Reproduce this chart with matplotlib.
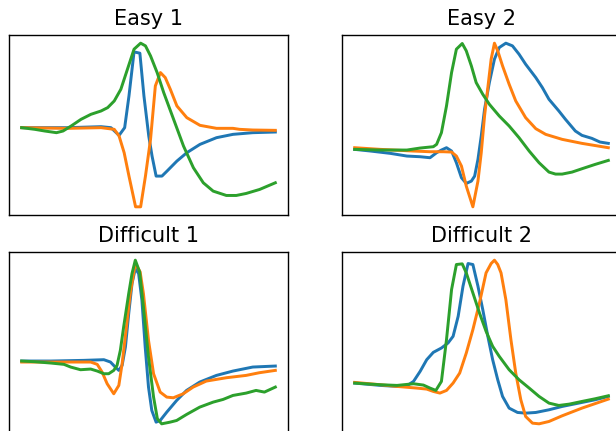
#!/usr/bin/env python3

import matplotlib
matplotlib.use("Agg")
import matplotlib.pyplot as plt

# Easy 1
easy1_blue_t = [0, 18.2, 31.3, 35.2, 38.4, 40.6, 42.3, 44.3, 46.6, 48.2, 50.1, 51.4,
                53.0, 55.3, 57.3, 61.2, 65.1, 70.3, 76.8, 83.3, 91.1, 100]
easy1_blue_v = [0, 0, 0.03, 0, -0.23, 0, 0.95, 2.27, 2.23, 0.95, -0.25, -0.85,
                -1.45, -1.45, -1.30, -1.00, -0.75, -0.50, -0.30, -0.20, -0.15, -0.13]
easy1_orange_t = [0, 18.2, 31.3, 36.5, 38.4, 40.4, 42.3, 44.9, 46.9, 48.8, 50.8, 52.7,
                  54.7, 56.6, 58.6, 61.2, 65.1, 70.3, 76.8, 83.3, 85.9, 91.1, 100]
easy1_orange_v = [0, -0.02, 0, -0.05, -0.25, -0.75, -1.45, -2.37, -2.37, -1.45, -0.35, 1.25,
                  1.65, 1.50, 1.15, 0.65, 0.30, 0.07, -0.02, -0.02, -0.05, -0.07, -0.08]
easy1_green_t = [0, 5.2, 9.1, 13.7, 16.3, 19.5, 23.4, 27.3, 31.3, 33.9, 36.5, 39.1, 41.7,
                 44.3, 46.9, 48.8, 50.8, 53.4, 56.0, 59.9, 63.8, 67.7, 71.6, 75.5, 80.7,
                 84.6, 88.5, 93.8, 100]
easy1_green_v = [0, -0.05, -0.10, -0.15, -0.10, 0.05, 0.25, 0.40, 0.50, 0.60, 0.80, 1.15, 1.75,
                 2.35, 2.53, 2.45, 2.15, 1.65, 1.05, 0.25, -0.55, -1.20, -1.65, -1.90, -2.03,
                 -2.03, -1.97, -1.85, -1.65]

# Easy 2
easy2_blue_t = [0, 6.3, 14.1, 20.6, 25.8, 29.7, 32.3, 34.2, 36.2, 38.2, 40.1, 42.1, 44.0,
                46.0, 47.3, 48.6, 49.9, 51.2, 53.1, 55.1, 57.0, 59.6, 62.2, 64.8, 67.4,
                71.4, 74.0, 76.6, 80.5, 83.1, 87.0, 89.6, 93.5, 96.7, 100]
easy2_blue_v = [0, -0.05, -0.12, -0.20, -0.22, -0.25, -0.10, -0.02, 0.05, -0.05, -0.40, -0.85, -1.02,
                -0.95, -0.80, -0.30, 0.40, 1.20, 2.00, 2.70, 3.05, 3.18, 3.10, 2.85, 2.55,
                2.15, 1.85, 1.50, 1.15, 0.90, 0.55, 0.42, 0.33, 0.22, 0.18]
easy2_orange_t = [0, 10.2, 23.2, 29.7, 34.9, 38.2, 40.1, 42.1, 44.0, 46.6, 48.6, 49.9, 51.2,
                  52.5, 53.8, 55.1, 56.4, 58.3, 60.9, 63.5, 67.4, 71.4, 75.3, 81.8, 89.6, 100]
easy2_orange_v = [0.05, 0, -0.05, -0.07, -0.07, -0.08, -0.20, -0.50, -1.10, -1.72, -0.95, -0.10, 1.00,
                  1.85, 2.70, 3.18, 2.95, 2.50, 1.95, 1.45, 0.95, 0.62, 0.45, 0.30, 0.18, 0.05]
easy2_green_t = [0, 10.2, 20.6, 25.8, 31.0, 32.3, 34.2, 36.2, 38.2, 40.1, 42.4, 44.0, 46.0,
                 47.9, 50.5, 53.1, 57.0, 60.9, 64.8, 68.8, 72.7, 76.6, 79.2, 81.8, 85.7,
                 89.6, 94.8, 100]
easy2_green_v = [0, -0.02, -0.02, 0.04, 0.08, 0.15, 0.50, 1.30, 2.30, 3.00, 3.17, 2.95, 2.50,
                 2.00, 1.65, 1.35, 1.00, 0.70, 0.35, -0.05, -0.40, -0.68, -0.74, -0.74, -0.68,
                 -0.58, -0.45, -0.33]

# Difficult 1
diff1_blue_t = [0, 11.5, 24.5, 32.4, 35.0, 36.9, 38.3, 39.6, 40.9, 42.2, 43.5, 44.8, 46.1,
                47.4, 48.7, 50.0, 51.3, 53.0, 54.6, 57.2, 61.1, 65.0, 70.2, 76.8, 83.3,
                91.1, 100]
diff1_blue_v = [0, 0, 0.02, 0.04, -0.03, -0.18, -0.28, -0.13, 0.42, 1.42, 2.32, 2.77, 2.62,
                1.82, 0.42, -0.78, -1.48, -1.83, -1.78, -1.53, -1.18, -0.88, -0.63, -0.43, -0.30,
                -0.18, -0.15]
diff1_orange_t = [0, 11.5, 21.9, 27.2, 29.8, 31.7, 33.7, 36.3, 38.3, 39.6, 41.3, 42.8, 44.8,
                  46.7, 48.0, 50.0, 52.0, 54.6, 57.2, 59.8, 63.7, 67.6, 72.8, 80.7, 88.5,
                  93.7, 100]
diff1_orange_v = [-0.03, -0.03, -0.03, -0.03, -0.10, -0.33, -0.68, -0.98, -0.73, -0.08, 1.02, 2.02, 2.92,
                  2.67, 2.02, 0.62, -0.38, -0.93, -1.08, -1.10, -0.98, -0.78, -0.60, -0.50, -0.43,
                  -0.35, -0.28]
diff1_green_t = [0, 5.0, 11.5, 16.7, 19.3, 23.2, 27.2, 29.8, 32.4, 34.3, 36.3, 37.6, 38.9,
                 40.2, 42.2, 43.5, 44.8, 46.5, 48.0, 50.0, 52.0, 53.5, 55.2, 58.5, 61.1,
                 65.0, 70.2, 75.5, 79.4, 83.3, 88.5, 92.4, 95.7, 100]
diff1_green_v = [0, -0.02, -0.06, -0.10, -0.18, -0.26, -0.24, -0.30, -0.38, -0.38, -0.28, -0.13, 0.32,
                 1.02, 2.02, 2.62, 3.02, 2.67, 1.62, 0.12, -1.08, -1.73, -1.88, -1.83, -1.78,
                 -1.60, -1.38, -1.23, -1.15, -1.03, -0.96, -0.88, -0.93, -0.78]

# Difficult 2
diff2_blue_t = [0, 10.2, 16.7, 20.6, 23.2, 25.8, 28.4, 31.0, 34.2, 36.8, 38.8, 40.8, 42.7,
                44.7, 46.6, 48.6, 50.5, 52.5, 54.4, 56.4, 58.3, 60.9, 64.2, 67.4, 71.4,
                76.6, 81.8, 88.3, 94.8, 100]
diff2_blue_v = [0, -0.07, -0.10, -0.08, 0.05, 0.35, 0.70, 0.92, 1.05, 1.20, 1.40, 2.00, 2.90,
                3.58, 3.55, 2.90, 2.20, 1.40, 0.70, 0.10, -0.40, -0.75, -0.88, -0.90, -0.88,
                -0.80, -0.70, -0.60, -0.50, -0.40]
diff2_orange_t = [0, 10.2, 16.7, 24.5, 28.4, 31.0, 33.6, 36.2, 38.8, 41.4, 44.0, 46.6, 49.2,
                  51.8, 53.8, 55.1, 56.4, 57.7, 59.6, 61.6, 63.5, 65.5, 67.4, 70.1, 72.7,
                  76.6, 81.8, 89.6, 100]
diff2_orange_v = [0.02, -0.05, -0.10, -0.15, -0.18, -0.25, -0.30, -0.22, 0, 0.30, 0.90, 1.60, 2.40,
                  3.30, 3.58, 3.68, 3.55, 3.30, 2.50, 1.30, 0.30, -0.50, -1.00, -1.20, -1.22,
                  -1.15, -0.98, -0.75, -0.48]
diff2_green_t = [0, 10.2, 16.7, 23.2, 27.1, 29.7, 32.0, 34.2, 36.2, 38.2, 40.1, 42.4, 44.0,
                 46.6, 49.2, 51.8, 54.4, 57.0, 60.9, 64.8, 68.8, 72.7, 76.6, 80.5, 84.6,
                 89.6, 94.8, 100]
diff2_green_v = [0, -0.05, -0.07, -0.02, -0.06, -0.15, -0.22, 0.05, 1.30, 2.80, 3.55, 3.57, 3.30,
                 2.70, 2.10, 1.55, 1.10, 0.80, 0.40, 0.10, -0.15, -0.40, -0.60, -0.67, -0.63,
                 -0.55, -0.47, -0.38]

titles = ["Easy 1", "Easy 2", "Difficult 1", "Difficult 2"]
panels = [
    [(easy1_blue_t, easy1_blue_v), (easy1_orange_t, easy1_orange_v), (easy1_green_t, easy1_green_v)],
    [(easy2_blue_t, easy2_blue_v), (easy2_orange_t, easy2_orange_v), (easy2_green_t, easy2_green_v)],
    [(diff1_blue_t, diff1_blue_v), (diff1_orange_t, diff1_orange_v), (diff1_green_t, diff1_green_v)],
    [(diff2_blue_t, diff2_blue_v), (diff2_orange_t, diff2_orange_v), (diff2_green_t, diff2_green_v)],
]

W, H = 616, 431
fig = plt.figure(figsize=(W / 125, H / 125), dpi=125)

# the figure is cut off on the right and at the bottom
lefts = [9, 342]
tops = [35, 252]
aw, ah = 279, 180

for idx, (title, lines) in enumerate(zip(titles, panels)):
    row, col = divmod(idx, 2)
    x0 = lefts[col] / W
    y0 = (H - tops[row] - ah) / H
    ax = fig.add_axes([x0, y0, aw / W, ah / H])
    for t, v in lines:
        ax.plot(t, v, linewidth=1.7)
    ax.set_xticks([])
    ax.set_yticks([])
    ax.set_title(title)

fig.savefig("out.png", dpi=125)
